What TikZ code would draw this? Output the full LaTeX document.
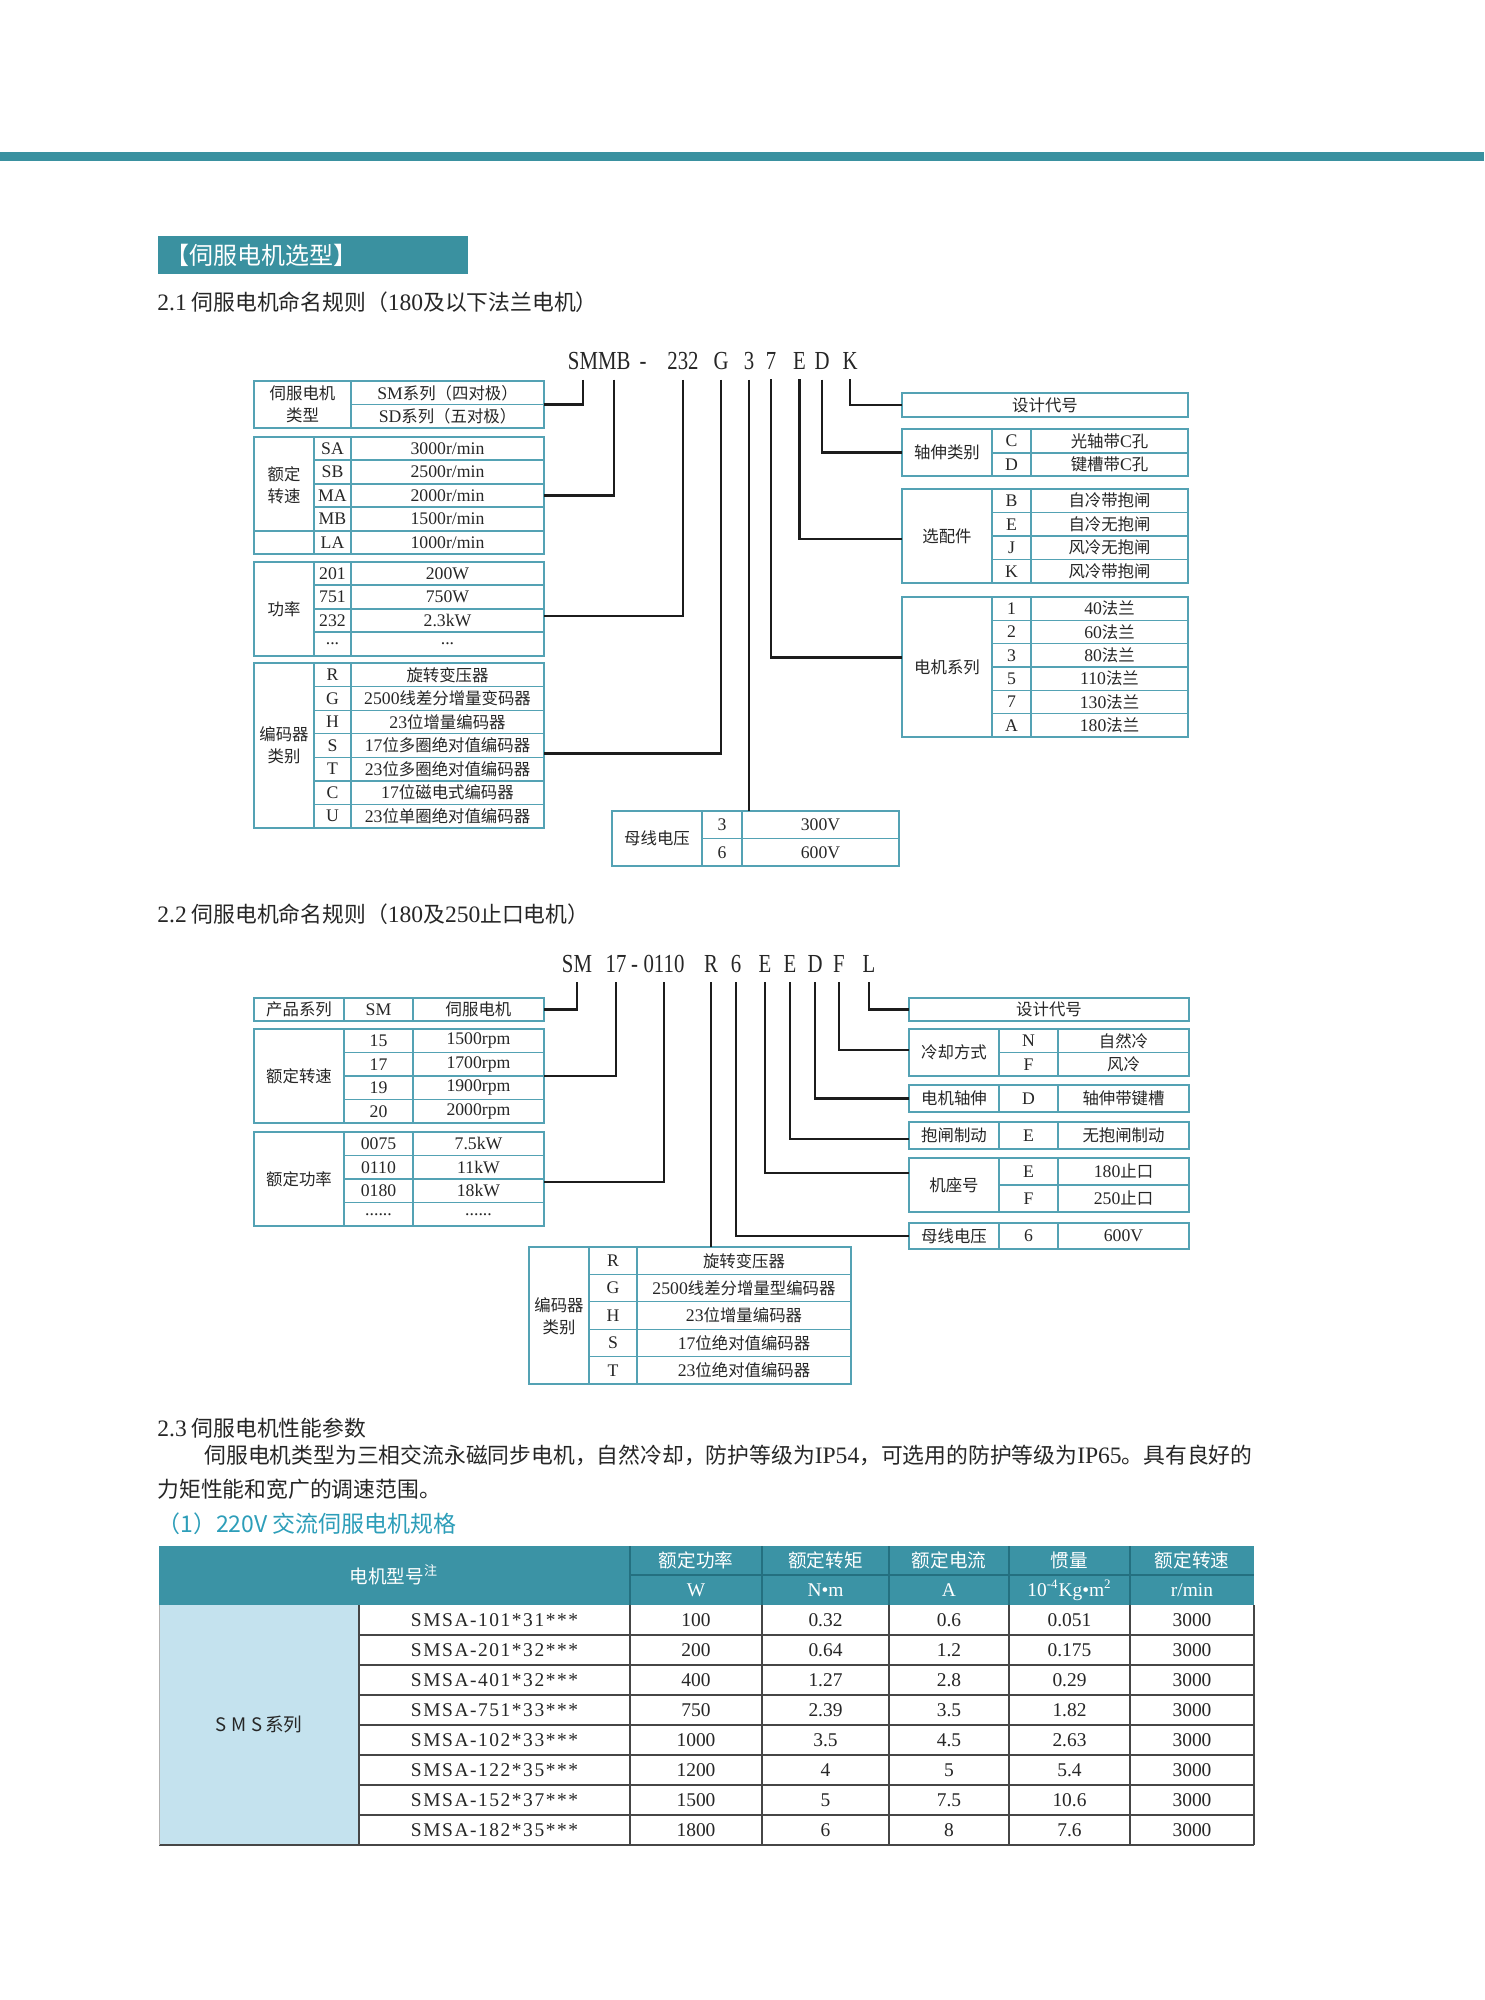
\documentclass[tikz,border=0pt]{standalone}
\usepackage{fontspec}
\setmainfont{Liberation Serif}
\newfontfamily\zhf{Noto Sans CJK SC}
\newfontfamily\latf{Liberation Serif}[Scale=1.08]
\newfontfamily\latw{Liberation Serif}[Scale=1.08,LetterSpace=8]
\newfontfamily\modf{Liberation Serif}[FakeStretch=0.8]
\definecolor{teala}{RGB}{58,145,160}
\definecolor{tborder}{RGB}{84,162,180}
\definecolor{hdrfill}{RGB}{59,147,165}
\definecolor{hdrline}{RGB}{36,112,128}
\definecolor{serfill}{RGB}{196,226,238}
\definecolor{subteal}{RGB}{45,158,185}
\definecolor{txt}{RGB}{38,38,38}
\definecolor{wirec}{RGB}{28,28,28}
\definecolor{gridc}{RGB}{70,70,70}
\begin{document}
\begin{tikzpicture}[x=0.5pt,y=-0.5pt,
  frame/.style={draw=tborder,line width=0.6pt,inner sep=0pt,outer sep=0pt,rectangle},
  tline/.style={draw=tborder,line width=0.6pt},
  zc/.style={inner sep=0pt,text=txt,font=\fontsize{8.2}{11}\selectfont\zhf,align=center},
  lc/.style={inner sep=0pt,text=txt,font=\fontsize{8.2}{11}\selectfont\latf},
  mc/.style={inner sep=0pt,outer xsep=0pt,outer ysep=4.75pt,anchor=base,text=txt,font=\fontsize{13}{13}\selectfont\modf},
  wire/.style={draw=wirec,line width=1.3pt},
  body/.style={inner sep=0pt,anchor=west,text=txt,font=\fontsize{10.9}{13}\selectfont\zhf},
  hz/.style={inner sep=0pt,text=white,font=\fontsize{9.3}{11}\selectfont\zhf},
  hl/.style={inner sep=0pt,text=white,font=\fontsize{9}{11}\selectfont\latf},
  dc/.style={inner sep=0pt,text=txt,font=\fontsize{9}{11}\selectfont\latf},
  gline/.style={draw=gridc,line width=0.7pt}
]
\fill[white] (0,0) rectangle (1484,2000);
\useasboundingbox (0,0) rectangle (1484,2000);
\fill[teala] (0,152) rectangle (1484,161);

\node[fill=teala,anchor=west,minimum height=19pt,text width=148pt,inner xsep=3.5pt,inner ysep=0pt,align=left,text=white,font=\fontsize{12}{12}\selectfont\zhf] (title) at (158,255) {【伺服电机选型】};

\node[body] (h21) at (157,302) {{\latf 2.1} 伺服电机命名规则（{\latf 180}及以下法兰电机）};

% ---------- model string 1 ----------
\node[mc,anchor=base east] (mSM) at (598,370) {SM};
\node[mc,anchor=base west] (mMB) at (598,370) {MB};
\node[mc] (mdash) at (643,370) {-};
\node[mc] (m232) at (683,370) {232};
\node[mc] (mG) at (721,370) {G};
\node[mc] (m3) at (749,370) {3};
\node[mc] (m7) at (771,370) {7};
\node[mc] (mE) at (799.5,370) {E};
\node[mc] (mD) at (822,370) {D};
\node[mc] (mK) at (850,370) {K};

% ---------- table A ----------
\node[frame,minimum width=145pt,minimum height=23.5pt] (tA) at (399,404.5) {};
\draw[tline] (351,381) -- (351,428);
\draw[tline] (351,404.5) -- (544,404.5);
\node[zc] (tAl) at (302.5,404.5) {伺服电机\\类型};
\node[zc] (tA1) at (447.5,393) {{\latf SM}系列（四对极）};
\node[zc] (tA2) at (447.5,416) {{\latf SD}系列（五对极）};

% ---------- table B ----------
\node[frame,minimum width=145pt,minimum height=58.5pt] (tB) at (399,495.5) {};
\draw[tline] (314,437) -- (314,554);
\draw[tline] (351,437) -- (351,554);
\draw[tline] (314,460) -- (544,460);
\draw[tline] (314,484) -- (544,484);
\draw[tline] (314,507) -- (544,507);
\draw[tline] (254,531) -- (544,531);
\node[zc] (tBl) at (284,485) {额定\\转速};
\node[lc] (tB1c) at (332.5,448.5) {SA};
\node[lc] (tB2c) at (332.5,472) {SB};
\node[lc] (tB3c) at (332.5,495.5) {MA};
\node[lc] (tB4c) at (332.5,519) {MB};
\node[lc] (tB5c) at (332.5,542.5) {LA};
\node[lc] (tB1v) at (447.5,448.5) {3000r/min};
\node[lc] (tB2v) at (447.5,472) {2500r/min};
\node[lc] (tB3v) at (447.5,495.5) {2000r/min};
\node[lc] (tB4v) at (447.5,519) {1500r/min};
\node[lc] (tB5v) at (447.5,542.5) {1000r/min};

% ---------- table C ----------
\node[frame,minimum width=145pt,minimum height=47pt] (tC) at (399,609) {};
\draw[tline] (314,562) -- (314,656);
\draw[tline] (351,562) -- (351,656);
\draw[tline] (314,585) -- (544,585);
\draw[tline] (314,609) -- (544,609);
\draw[tline] (314,632) -- (544,632);
\node[zc] (tCl) at (284,609) {功率};
\node[lc] (tC1c) at (332.5,573.5) {201};
\node[lc] (tC2c) at (332.5,597) {751};
\node[lc] (tC3c) at (332.5,620.5) {232};
\node[lc] (tC4c) at (332.5,644) {...};
\node[lc] (tC1v) at (447.5,573.5) {200W};
\node[lc] (tC2v) at (447.5,597) {750W};
\node[lc] (tC3v) at (447.5,620.5) {2.3kW};
\node[lc] (tC4v) at (447.5,644) {...};

% ---------- table D ----------
\node[frame,minimum width=145pt,minimum height=82.5pt] (tD) at (399,745.5) {};
\draw[tline] (314,663) -- (314,828);
\draw[tline] (351,663) -- (351,828);
\foreach \y in {686.6,710.1,733.7,757.3,780.9,804.4} \draw[tline] (314,\y) -- (544,\y);
\node[zc] (tDl) at (284,745.5) {编码器\\类别};
\node[lc] (tD1c) at (332.5,674.8) {R};
\node[lc] (tD2c) at (332.5,698.4) {G};
\node[lc] (tD3c) at (332.5,721.9) {H};
\node[lc] (tD4c) at (332.5,745.5) {S};
\node[lc] (tD5c) at (332.5,769.1) {T};
\node[lc] (tD6c) at (332.5,792.6) {C};
\node[lc] (tD7c) at (332.5,816.2) {U};
\node[zc] (tD1v) at (447.5,674.8) {旋转变压器};
\node[zc] (tD2v) at (447.5,698.4) {{\latf 2500}线差分增量变码器};
\node[zc] (tD3v) at (447.5,721.9) {{\latf 23}位增量编码器};
\node[zc] (tD4v) at (447.5,745.5) {{\latf 17}位多圈绝对值编码器};
\node[zc] (tD5v) at (447.5,769.1) {{\latf 23}位多圈绝对值编码器};
\node[zc] (tD6v) at (447.5,792.6) {{\latf 17}位磁电式编码器};
\node[zc] (tD7v) at (447.5,816.2) {{\latf 23}位单圈绝对值编码器};

% ---------- right tables section 1 ----------
\node[frame,minimum width=143pt,minimum height=12pt] (tK) at (1045,405) {};
\node[zc] (tKt) at (1045,405) {设计代号};

\node[frame,minimum width=143pt,minimum height=23.5pt] (tZ) at (1045,452.5) {};
\draw[tline] (992,429) -- (992,476);
\draw[tline] (1031,429) -- (1031,476);
\draw[tline] (992,453) -- (1188,453);
\node[zc] (tZl) at (947,452.5) {轴伸类别};
\node[lc] (tZ1c) at (1011.5,441) {C};
\node[lc] (tZ2c) at (1011.5,464.5) {D};
\node[zc] (tZ1v) at (1109.5,441) {光轴带{\latf C}孔};
\node[zc] (tZ2v) at (1109.5,464.5) {键槽带{\latf C}孔};

\node[frame,minimum width=143pt,minimum height=47pt] (tO) at (1045,536) {};
\draw[tline] (992,489) -- (992,583);
\draw[tline] (1031,489) -- (1031,583);
\foreach \y in {512.5,536,559.5} \draw[tline] (992,\y) -- (1188,\y);
\node[zc] (tOl) at (947,536) {选配件};
\node[lc] (tO1c) at (1011.5,500.75) {B};
\node[lc] (tO2c) at (1011.5,524.25) {E};
\node[lc] (tO3c) at (1011.5,547.75) {J};
\node[lc] (tO4c) at (1011.5,571.25) {K};
\node[zc] (tO1v) at (1109.5,500.75) {自冷带抱闸};
\node[zc] (tO2v) at (1109.5,524.25) {自冷无抱闸};
\node[zc] (tO3v) at (1109.5,547.75) {风冷无抱闸};
\node[zc] (tO4v) at (1109.5,571.25) {风冷带抱闸};

\node[frame,minimum width=143pt,minimum height=70pt] (tS) at (1045,667) {};
\draw[tline] (992,597) -- (992,737);
\draw[tline] (1031,597) -- (1031,737);
\foreach \y in {620.3,643.7,667,690.3,713.7} \draw[tline] (992,\y) -- (1188,\y);
\node[zc] (tSl) at (947,667) {电机系列};
\node[lc] (tS1c) at (1011.5,608.7) {1};
\node[lc] (tS2c) at (1011.5,632) {2};
\node[lc] (tS3c) at (1011.5,655.3) {3};
\node[lc] (tS4c) at (1011.5,678.7) {5};
\node[lc] (tS5c) at (1011.5,702) {7};
\node[lc] (tS6c) at (1011.5,725.3) {A};
\node[zc] (tS1v) at (1109.5,608.7) {{\latf 40}法兰};
\node[zc] (tS2v) at (1109.5,632) {{\latf 60}法兰};
\node[zc] (tS3v) at (1109.5,655.3) {{\latf 80}法兰};
\node[zc] (tS4v) at (1109.5,678.7) {{\latf 110}法兰};
\node[zc] (tS5v) at (1109.5,702) {{\latf 130}法兰};
\node[zc] (tS6v) at (1109.5,725.3) {{\latf 180}法兰};

\node[frame,minimum width=143.5pt,minimum height=27.5pt] (tM) at (755.5,838.5) {};
\draw[tline] (702,811) -- (702,866);
\draw[tline] (742,811) -- (742,866);
\draw[tline] (702,838.5) -- (899,838.5);
\node[zc] (tMl) at (657,838.5) {母线电压};
\node[lc] (tM1c) at (722,824.75) {3};
\node[lc] (tM2c) at (722,852.25) {6};
\node[lc] (tM1v) at (820.5,824.75) {300V};
\node[lc] (tM2v) at (820.5,852.25) {600V};

% ---------- connectors section 1 ----------
\draw[wire] (mSM.south) |- (tA.east);
\draw[wire] (mMB.south) |- (tB.east);
\draw[wire] (m232.south) |- ([yshift=-3.5pt]tC.east);
\draw[wire] (mG.south) |- ([yshift=-4pt]tD.east);
\draw[wire] (m3.south) -- (m3.south |- tM.north);
\draw[wire] (m7.south) |- ([yshift=4.75pt]tS.west);
\draw[wire] (mE.south) |- ([yshift=-1.5pt]tO.west);
\draw[wire] (mD.south) |- (tZ.west);
\draw[wire] (mK.south) |- (tK.west);

% ================= section 2.2 =================
\node[body] (h22) at (157,914) {{\latf 2.2} 伺服电机命名规则（{\latf 180}及{\latf 250}止口电机）};

\node[mc] (nSM) at (577,972.5) {SM};
\node[mc] (n17) at (616,972.5) {17};
\node[mc] (ndash) at (634.5,972.5) {-};
\node[mc] (n0110) at (664,972.5) {0110};
\node[mc] (nR) at (711,972.5) {R};
\node[mc] (n6) at (736,972.5) {6};
\node[mc] (nE1) at (765,972.5) {E};
\node[mc] (nE2) at (790,972.5) {E};
\node[mc] (nD) at (815,972.5) {D};
\node[mc] (nF) at (839,972.5) {F};
\node[mc] (nL) at (869,972.5) {L};

% left tables
\node[frame,minimum width=145pt,minimum height=11.5pt] (tP) at (399,1009.5) {};
\draw[tline] (344,998) -- (344,1021);
\draw[tline] (413,998) -- (413,1021);
\node[zc] (tPl) at (299,1009.5) {产品系列};
\node[lc] (tPc) at (378.5,1009.5) {SM};
\node[zc] (tPv) at (478.5,1009.5) {伺服电机};

\node[frame,minimum width=145pt,minimum height=47pt] (tR) at (399,1076) {};
\draw[tline] (344,1029) -- (344,1123);
\draw[tline] (413,1029) -- (413,1123);
\foreach \y in {1052.5,1076,1099.5} \draw[tline] (344,\y) -- (544,\y);
\node[zc] (tRl) at (299,1076) {额定转速};
\node[lc] (tR1c) at (378.5,1040.75) {15};
\node[lc] (tR2c) at (378.5,1064.25) {17};
\node[lc] (tR3c) at (378.5,1087.75) {19};
\node[lc] (tR4c) at (378.5,1111.25) {20};
\node[lc] (tR1v) at (478.5,1040.75) {1500rpm};
\node[lc] (tR2v) at (478.5,1064.25) {1700rpm};
\node[lc] (tR3v) at (478.5,1087.75) {1900rpm};
\node[lc] (tR4v) at (478.5,1111.25) {2000rpm};

\node[frame,minimum width=145pt,minimum height=47pt] (tW) at (399,1179) {};
\draw[tline] (344,1132) -- (344,1226);
\draw[tline] (413,1132) -- (413,1226);
\foreach \y in {1155.5,1179,1202.5} \draw[tline] (344,\y) -- (544,\y);
\node[zc] (tWl) at (299,1179) {额定功率};
\node[lc] (tW1c) at (378.5,1143.75) {0075};
\node[lc] (tW2c) at (378.5,1167.25) {0110};
\node[lc] (tW3c) at (378.5,1190.75) {0180};
\node[lc] (tW4c) at (378.5,1214.25) {......};
\node[lc] (tW1v) at (478.5,1143.75) {7.5kW};
\node[lc] (tW2v) at (478.5,1167.25) {11kW};
\node[lc] (tW3v) at (478.5,1190.75) {18kW};
\node[lc] (tW4v) at (478.5,1214.25) {......};

% right tables section 2
\node[frame,minimum width=140pt,minimum height=11.5pt] (tL) at (1049,1009.5) {};
\node[zc] (tLt) at (1049,1009.5) {设计代号};

\node[frame,minimum width=140pt,minimum height=23.5pt] (tF) at (1049,1052.5) {};
\draw[tline] (999,1029) -- (999,1076);
\draw[tline] (1058,1029) -- (1058,1076);
\draw[tline] (999,1052.5) -- (1189,1052.5);
\node[zc] (tFl) at (954,1052.5) {冷却方式};
\node[lc] (tF1c) at (1028.5,1040.75) {N};
\node[lc] (tF2c) at (1028.5,1064.25) {F};
\node[zc] (tF1v) at (1123.5,1040.75) {自然冷};
\node[zc] (tF2v) at (1123.5,1064.25) {风冷};

\node[frame,minimum width=140pt,minimum height=13.5pt] (tX) at (1049,1098.5) {};
\draw[tline] (999,1085) -- (999,1112);
\draw[tline] (1058,1085) -- (1058,1112);
\node[zc] (tXl) at (954,1098.5) {电机轴伸};
\node[lc] (tXc) at (1028.5,1098.5) {D};
\node[zc] (tXv) at (1123.5,1098.5) {轴伸带键槽};

\node[frame,minimum width=140pt,minimum height=13.5pt] (tY) at (1049,1135.5) {};
\draw[tline] (999,1122) -- (999,1149);
\draw[tline] (1058,1122) -- (1058,1149);
\node[zc] (tYl) at (954,1135.5) {抱闸制动};
\node[lc] (tYc) at (1028.5,1135.5) {E};
\node[zc] (tYv) at (1123.5,1135.5) {无抱闸制动};

\node[frame,minimum width=140pt,minimum height=27pt] (tJ) at (1049,1185) {};
\draw[tline] (999,1158) -- (999,1212);
\draw[tline] (1058,1158) -- (1058,1212);
\draw[tline] (999,1185) -- (1189,1185);
\node[zc] (tJl) at (954,1185) {机座号};
\node[lc] (tJ1c) at (1028.5,1171.5) {E};
\node[lc] (tJ2c) at (1028.5,1198.5) {F};
\node[zc] (tJ1v) at (1123.5,1171.5) {{\latf 180}止口};
\node[zc] (tJ2v) at (1123.5,1198.5) {{\latf 250}止口};

\node[frame,minimum width=140pt,minimum height=13pt] (tV) at (1049,1236) {};
\draw[tline] (999,1223) -- (999,1249);
\draw[tline] (1058,1223) -- (1058,1249);
\node[zc] (tVl) at (954,1236) {母线电压};
\node[lc] (tVc) at (1028.5,1236) {6};
\node[lc] (tVv) at (1123.5,1236) {600V};

% encoder table section 2
\node[frame,minimum width=161pt,minimum height=68.5pt] (tE2) at (690,1315.5) {};
\draw[tline] (589,1247) -- (589,1384);
\draw[tline] (637,1247) -- (637,1384);
\foreach \y in {1274.4,1301.8,1329.2,1356.6} \draw[tline] (589,\y) -- (851,\y);
\node[zc] (tE2l) at (559,1316) {编码器\\类别};
\node[lc] (tE21c) at (613,1260.7) {R};
\node[lc] (tE22c) at (613,1288.1) {G};
\node[lc] (tE23c) at (613,1315.5) {H};
\node[lc] (tE24c) at (613,1342.9) {S};
\node[lc] (tE25c) at (613,1370.3) {T};
\node[zc] (tE21v) at (744,1260.7) {旋转变压器};
\node[zc] (tE22v) at (744,1288.1) {{\latf 2500}线差分增量型编码器};
\node[zc] (tE23v) at (744,1315.5) {{\latf 23}位增量编码器};
\node[zc] (tE24v) at (744,1342.9) {{\latf 17}位绝对值编码器};
\node[zc] (tE25v) at (744,1370.3) {{\latf 23}位绝对值编码器};

% connectors section 2
\draw[wire] (nSM.south) |- (tP.east);
\draw[wire] (n17.south) |- (tR.east);
\draw[wire] (n0110.south) |- ([yshift=-1.5pt]tW.east);
\draw[wire] (nR.south) -- (nR.south |- tE2.north);
\draw[wire] (n6.south) |- (tV.west);
\draw[wire] (nE1.south) |- ([yshift=6pt]tJ.west);
\draw[wire] (nE2.south) |- ([yshift=-1.75pt]tY.west);
\draw[wire] (nD.south) |- (tX.west);
\draw[wire] (nF.south) |- ([yshift=1.25pt]tF.west);
\draw[wire] (nL.south) |- (tL.west);

% ================= section 2.3 =================
\node[body] (h23) at (157,1428) {{\latf 2.3} 伺服电机性能参数};
\node[body] (p1) at (204,1455) {伺服电机类型为三相交流永磁同步电机，自然冷却，防护等级为{\latf IP54}，可选用的防护等级为{\latf IP65}。具有良好的};
\node[body] (p2) at (157,1489) {力矩性能和宽广的调速范围。};
\node[body,text=subteal,font=\fontsize{11.5}{13}\selectfont\zhf] (s1) at (157,1524) {（1）220V 交流伺服电机规格};

\fill[hdrfill] (159,1546) rectangle (1254,1605);
\fill[serfill] (159,1605) rectangle (359,1845);
\draw[hdrline,line width=0.6pt] (630,1575) -- (1254,1575);
\foreach \x in {630,762,889,1009,1130} \draw[hdrline,line width=0.6pt] (\x,1546) -- (\x,1605);
\foreach \y in {1635,1665,...,1815} \draw[gline] (359,\y) -- (1254,\y);
\foreach \x in {359,630,762,889,1009,1130,1254} \draw[gline] (\x,1605) -- (\x,1845);
\draw[gline,line width=1pt] (159,1845) -- (1254,1845);
\draw[gray!60,line width=0.5pt] (159,1605) -- (159,1845);

\node[hz] (hM) at (394,1575) {电机型号\textsuperscript{注}};
\node[hz] (hP) at (696,1560.5) {额定功率};
\node[hz] (hT) at (825.5,1560.5) {额定转矩};
\node[hz] (hI) at (949,1560.5) {额定电流};
\node[hz] (hJ) at (1069.5,1560.5) {惯量};
\node[hz] (hS) at (1192,1560.5) {额定转速};
\node[hl] (uP) at (696,1590) {W};
\node[hl] (uT) at (825.5,1590) {N•m};
\node[hl] (uI) at (949,1590) {A};
\node[hl] (uJ) at (1069.5,1590) {10\textsuperscript{-4}Kg•m\textsuperscript{2}};
\node[hl] (uS) at (1192,1590) {r/min};

\node[inner sep=0pt,text=txt,font=\fontsize{9.3}{11}\selectfont\zhf] (ser) at (259,1725) {S\hspace{2.5pt}M\hspace{2.5pt}S\hspace{1pt}系列};

\foreach \m/\p/\t/\c/\j [count=\i] in {
  SMSA-101*31***/100/0.32/0.6/0.051,
  SMSA-201*32***/200/0.64/1.2/0.175,
  SMSA-401*32***/400/1.27/2.8/0.29,
  SMSA-751*33***/750/2.39/3.5/1.82,
  SMSA-102*33***/1000/3.5/4.5/2.63,
  SMSA-122*35***/1200/4/5/5.4,
  SMSA-152*37***/1500/5/7.5/10.6,
  SMSA-182*35***/1800/6/8/7.6}{
  \node[dc,font=\fontsize{9}{11}\selectfont\latw] (dM\i) at (494.5,1590+30*\i) {\m};
  \node[dc] (dP\i) at (696,1590+30*\i) {\p};
  \node[dc] (dT\i) at (825.5,1590+30*\i) {\t};
  \node[dc] (dC\i) at (949,1590+30*\i) {\c};
  \node[dc] (dJ\i) at (1069.5,1590+30*\i) {\j};
  \node[dc] (dS\i) at (1192,1590+30*\i) {3000};
}
\end{tikzpicture}
\end{document}
